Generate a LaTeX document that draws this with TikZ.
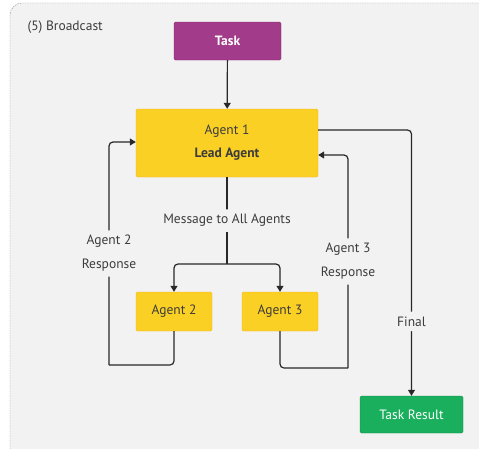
\documentclass[tikz,border=0pt]{standalone}
\usepackage{fontspec}
\setmainfont{PT Sans}
\usetikzlibrary{arrows.meta}
\definecolor{bggray}{RGB}{242,242,242}
\definecolor{framegray}{RGB}{140,140,140}
\definecolor{linegray}{RGB}{40,40,40}
\definecolor{textgray}{RGB}{60,60,60}
\definecolor{taskpurple}{RGB}{163,59,139}
\definecolor{taskedge}{RGB}{125,40,105}
\definecolor{agentyellow}{RGB}{251,208,36}
\definecolor{agentedge}{RGB}{245,178,30}
\definecolor{resgreen}{RGB}{26,175,93}
\definecolor{resedge}{RGB}{18,140,70}

\begin{document}
\begin{tikzpicture}[x=1pt,y=-1pt,
  box/.style = {draw, rounded corners=1.5pt, font=\fontsize{13.5}{16}\selectfont},
  agent/.style = {box, fill=agentyellow, draw=agentedge, text=textgray},
  flow/.style = {draw=linegray, line width=1.2pt, rounded corners=4pt, -{Triangle[length=6pt,width=7pt]}},
  lbl/.style = {fill=bggray, text=textgray, align=center, inner xsep=2pt, inner ysep=5pt, font=\fontsize{13.5}{24}\selectfont}]
\useasboundingbox (0,0) rectangle (479,448);
\fill[white] (0,0) rectangle (479,448);
\draw[framegray, fill=bggray, dash pattern=on 1.5pt off 1pt, rounded corners=12pt] (10,3) rectangle (500,470);

\node[text=textgray, anchor=west, font=\fontsize{13.5}{16}\selectfont] (title) at (24,27) {(5) Broadcast};
\node[box, fill=taskpurple, draw=taskedge, text=white, minimum width=107pt, minimum height=38pt, font=\fontsize{13.5}{16}\selectfont\bfseries] (task) at (227.5,41) {Task};
\node[agent, minimum width=182pt, minimum height=68pt, align=center, font=\fontsize{13.5}{23}\selectfont] (lead) at (227,143) {Agent 1\\\textbf{Lead Agent}};
\node[agent, minimum width=76pt, minimum height=39pt] (a2) at (174,311.5) {Agent 2};
\node[agent, minimum width=76pt, minimum height=39pt] (a3) at (280,311.5) {Agent 3};
\node[box, fill=resgreen, draw=resedge, text=white, minimum width=103pt, minimum height=37pt] (result) at (411.5,414.5) {Task Result};

\coordinate (split) at (227,264);
\coordinate (r2) at (109,365);
\coordinate (r3) at (348,368);

\draw[flow] (task) -- (lead);
\draw[flow, -] (lead) -- (split) node[lbl, midway] {Message to All Agents};
\draw[flow] (split) -| (a2);
\draw[flow] (split) -| (a3);
\draw[flow, -] (a2) |- (r2);
\draw[flow] (r2) |- ([yshift=1pt]lead.west) node[lbl, pos=0.25] {Agent 2\\Response};
\draw[flow, -] (a3) |- (r3);
\draw[flow] (r3) |- ([yshift=-12pt]lead.east) node[lbl, pos=0.25] {Agent 3\\Response};
\draw[flow] ([yshift=13pt]lead.east) -| (result) node[lbl, pos=0.86] {Final};
\end{tikzpicture}
\end{document}
